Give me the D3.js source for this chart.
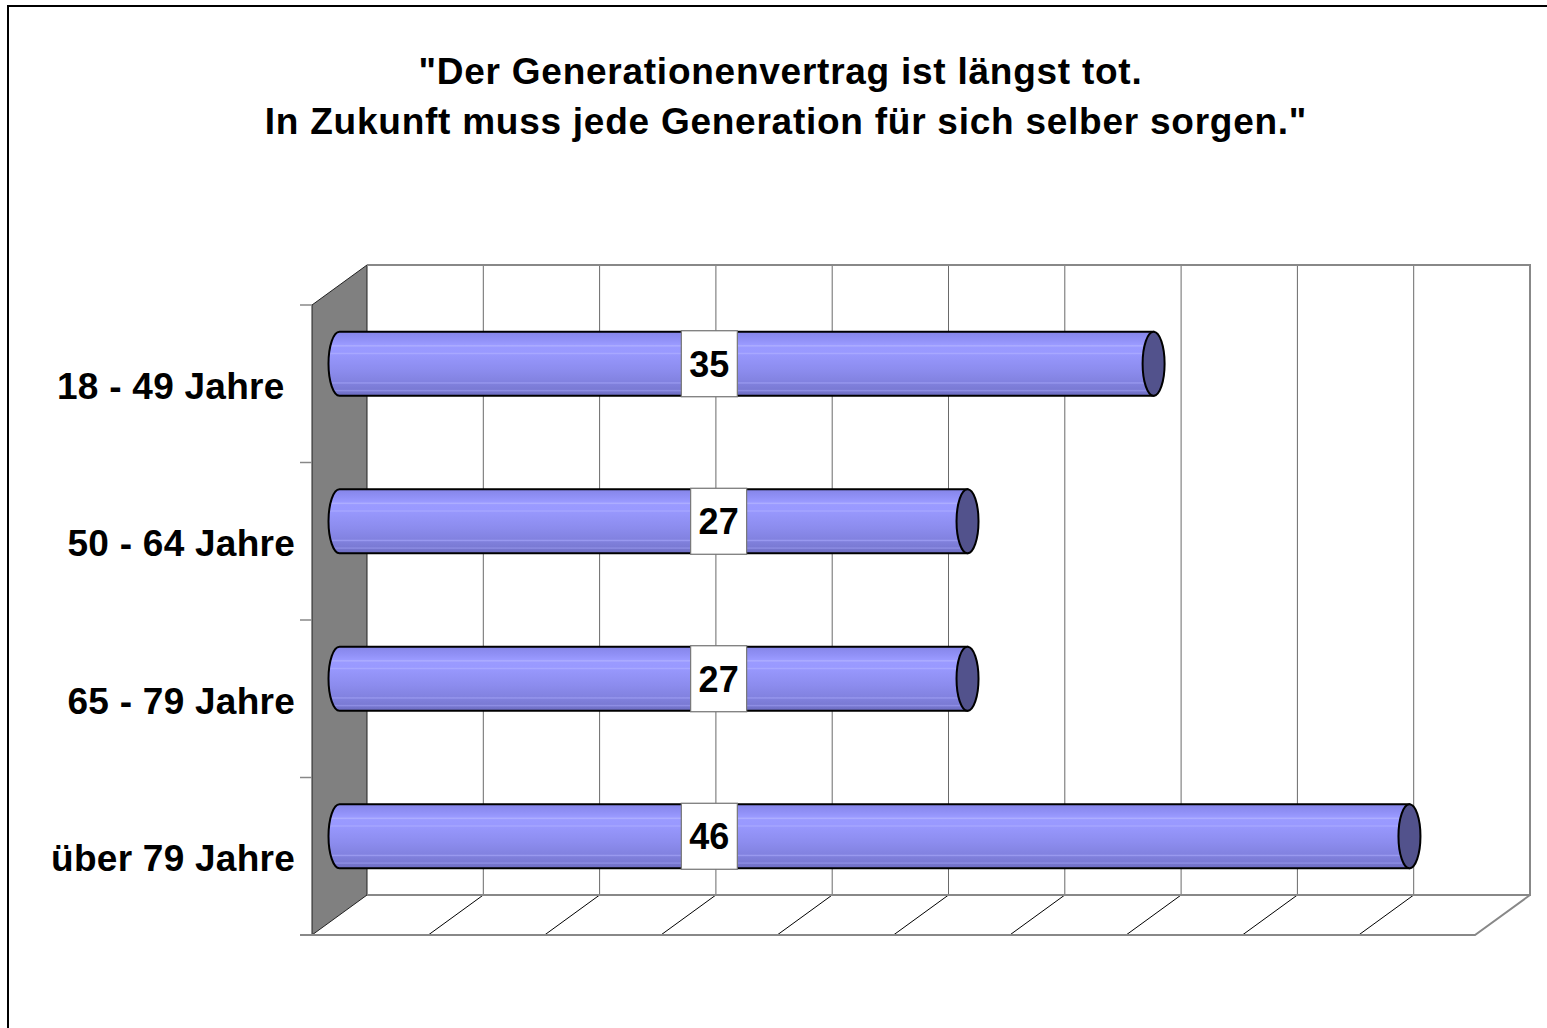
<!DOCTYPE html>
<html>
<head>
<meta charset="utf-8">
<script src="https://cdn.jsdelivr.net/npm/d3@7"></script>
<style>
  body { margin: 0; background: #fff; }
  text { font-family: "Liberation Sans", Arial, sans-serif; font-weight: bold; fill: #000; }
</style>
</head>
<body>
<script>
// data
var titleLines = ['"Der Generationenvertrag ist längst tot. ', 'In Zukunft muss jede Generation für sich selber sorgen."'];
var categories = ["18 - 49 Jahre ", "50 - 64 Jahre", "65 - 79 Jahre", "über 79 Jahre"];
var values = [35, 27, 27, 46];
// where the value boxes sit, in axis units (moved by hand in the original)
var labelAt = [15.9, 16.3, 16.3, 15.9];
var xTicks = [0, 5, 10, 15, 20, 25, 30, 35, 40, 45, 50];

var W = 1547, H = 1028;
// front plane of the 3d box, depth offset to the back wall
var front = {left: 312, right: 1475, top: 305, bottom: 935};
var depth = {dx: 55, dy: -40};

var svg = d3.select("body").append("svg")
    .attr("width", W)
    .attr("height", H);

var defs = svg.append("defs");
var grad = defs.append("linearGradient")
    .attr("id", "cyl")
    .attr("x1", 0).attr("y1", 0).attr("x2", 0).attr("y2", 1);
var stops = [
  [0, "#8585e8"], [0.12, "#9090f6"], [0.2, "#9a9aff"], [0.22, "#b0b0ff"], [0.24, "#9a9aff"],
  [0.32, "#9999ff"], [0.34, "#a8a8ff"], [0.36, "#9797fc"], [0.6, "#8c8cee"],
  [0.78, "#8282e0"], [0.8, "#9a9af0"], [0.82, "#8080dc"], [0.9, "#7a7ad4"],
  [0.92, "#9090e6"], [0.94, "#7575cc"], [1, "#6c6cc2"]
];
stops.forEach(function(s) {
  grad.append("stop").attr("offset", s[0]).attr("stop-color", s[1]);
});

// outer frame
svg.append("rect")
    .attr("x", 8).attr("y", 6)
    .attr("width", W + 50).attr("height", H + 50)
    .attr("fill", "none")
    .attr("stroke", "#000")
    .attr("stroke-width", 2);

// title
svg.selectAll(".title")
    .data(titleLines)
  .enter().append("text")
    .attr("class", "title")
    .attr("x", 786)
    .attr("y", function(d, i) { return 84 + i * 50; })
    .attr("text-anchor", "middle")
    .style("font-size", "37px")
    .style("letter-spacing", "0.75px")
    .style("white-space", "pre")
    .text(function(d) { return d; });

var xScale = d3.scaleLinear().domain([0, 50]).range([front.left, front.right]);
var yScale = d3.scaleBand().domain(categories).range([front.top, front.bottom]);

var g = svg.append("g");

// left side wall
g.append("path")
    .attr("d", "M" + front.left + "," + front.top +
      "L" + (front.left + depth.dx) + "," + (front.top + depth.dy) +
      "L" + (front.left + depth.dx) + "," + (front.bottom + depth.dy) +
      "L" + front.left + "," + front.bottom + "Z")
    .attr("fill", "#808080")
    .attr("stroke", "#222")
    .attr("stroke-width", 1);

// back wall gridlines
g.selectAll(".vgrid")
    .data(xTicks.slice(1, -1))
  .enter().append("line")
    .attr("x1", function(d) { return xScale(d) + depth.dx; })
    .attr("x2", function(d) { return xScale(d) + depth.dx; })
    .attr("y1", front.top + depth.dy)
    .attr("y2", front.bottom + depth.dy)
    .attr("stroke", "#6a6a6a")
    .attr("stroke-width", 1);

// floor diagonals
g.selectAll(".fgrid")
    .data(xTicks.slice(1, -1))
  .enter().append("line")
    .attr("x1", function(d) { return xScale(d) + depth.dx; })
    .attr("x2", function(d) { return xScale(d); })
    .attr("y1", front.bottom + depth.dy)
    .attr("y2", front.bottom)
    .attr("stroke", "#000")
    .attr("stroke-width", 1);

// box outline (grey)
var bx = xScale(50) + depth.dx;
g.append("path")
    .attr("d", "M" + (front.left + depth.dx) + "," + (front.top + depth.dy) +
      "H" + bx + "V" + (front.bottom + depth.dy) + "H" + (front.left + depth.dx))
    .attr("fill", "none")
    .attr("stroke", "#888")
    .attr("stroke-width", 2);
g.append("path")
    .attr("d", "M" + (front.left - 12) + "," + front.bottom + "H" + xScale(50) +
      "L" + bx + "," + (front.bottom + depth.dy))
    .attr("fill", "none")
    .attr("stroke", "#888")
    .attr("stroke-width", 2);

// category ticks on the left
g.selectAll(".ytick")
    .data(categories.map(function(c) { return yScale(c); }))
  .enter().append("line")
    .attr("x1", front.left - 12).attr("x2", front.left)
    .attr("y1", function(d) { return d; })
    .attr("y2", function(d) { return d; })
    .attr("stroke", "#888")
    .attr("stroke-width", 1.5);

// category labels
g.selectAll(".cat")
    .data(categories)
  .enter().append("text")
    .attr("x", 295)
    .attr("y", function(d) { return yScale(d) + yScale.bandwidth() / 2; })
    .attr("dy", "0.4em")
    .attr("text-anchor", "end")
    .style("font-size", "37px")
    .style("letter-spacing", "0.25px")
    .style("white-space", "pre")
    .text(function(d) { return d; });

// cylinders, sitting halfway into the depth
var half = 32, rx = 11;
var bars = g.selectAll(".bar")
    .data(values)
  .enter().append("g")
    .attr("class", "bar");

function cy(i) { return yScale(categories[i]) + yScale.bandwidth() / 2 + depth.dy / 2; }
function cx(v) { return xScale(v) + depth.dx / 2; }

bars.append("path")
    .attr("d", function(d, i) {
      var x0 = cx(0), x1 = cx(d), c = cy(i);
      return "M" + x0 + "," + (c - half) +
        "L" + x1 + "," + (c - half) +
        "L" + x1 + "," + (c + half) +
        "L" + x0 + "," + (c + half) +
        "A" + rx + "," + half + " 0 0 1 " + x0 + "," + (c - half) + "Z";
    })
    .attr("fill", "url(#cyl)")
    .attr("stroke", "#000")
    .attr("stroke-width", 2);

bars.append("ellipse")
    .attr("cx", function(d) { return cx(d); })
    .attr("cy", function(d, i) { return cy(i); })
    .attr("rx", rx)
    .attr("ry", half)
    .attr("fill", "#52528c")
    .attr("stroke", "#000")
    .attr("stroke-width", 2);

// value boxes
bars.append("rect")
    .attr("x", function(d, i) { return cx(labelAt[i]) - 28; })
    .attr("y", function(d, i) { return cy(i) - 33; })
    .attr("width", 56)
    .attr("height", 66)
    .attr("fill", "#fff")
    .attr("stroke", "#777")
    .attr("stroke-width", 1.2);

bars.append("text")
    .attr("x", function(d, i) { return cx(labelAt[i]); })
    .attr("y", function(d, i) { return cy(i); })
    .attr("dy", "0.36em")
    .attr("text-anchor", "middle")
    .style("font-size", "36px")
    .text(function(d) { return d; });
</script>
</body>
</html>
